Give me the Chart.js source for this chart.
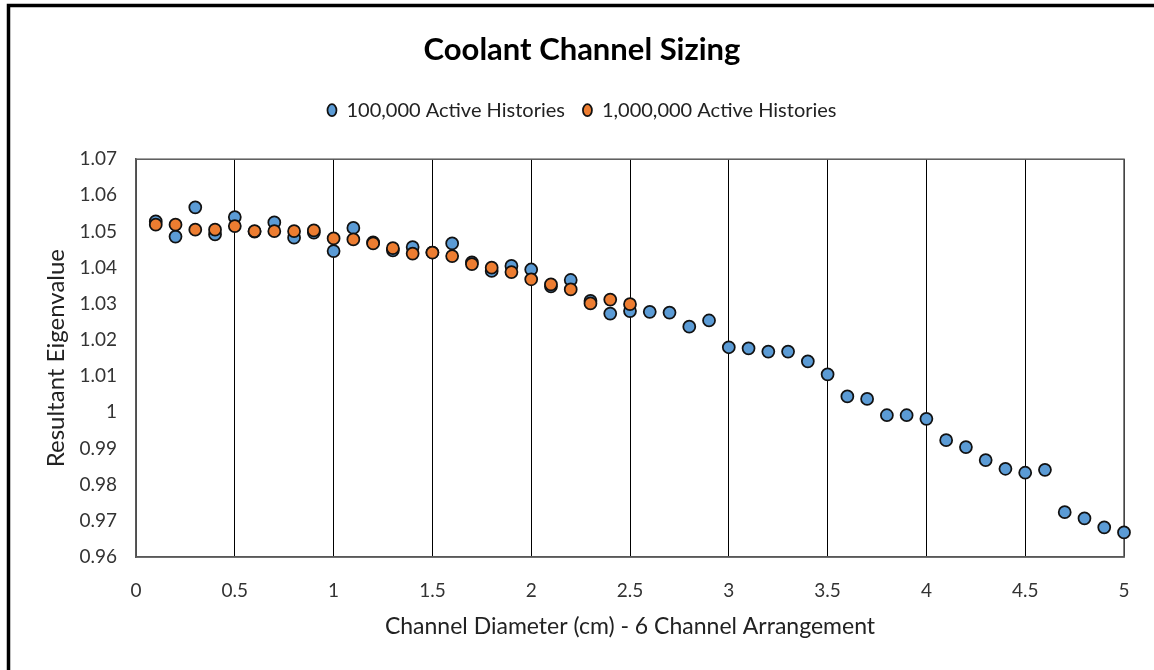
<!DOCTYPE html>
<html>
<head>
<meta charset="utf-8">
<script src="https://cdn.jsdelivr.net/npm/chart.js@4.4.1/dist/chart.umd.min.js"></script>
<style>
  body { margin: 0; background: #fff; }
  #wrap { width: 1154px; height: 670px; }
</style>
</head>
<body>
<div id="wrap"><canvas id="chart" width="1154" height="670"></canvas></div>
<script>
// channel diameters (cm)
const diameters = [0.1, 0.2, 0.3, 0.4, 0.5, 0.6, 0.7, 0.8, 0.9, 1.0,
  1.1, 1.2, 1.3, 1.4, 1.5, 1.6, 1.7, 1.8, 1.9, 2.0,
  2.1, 2.2, 2.3, 2.4, 2.5, 2.6, 2.7, 2.8, 2.9, 3.0,
  3.1, 3.2, 3.3, 3.4, 3.5, 3.6, 3.7, 3.8, 3.9, 4.0,
  4.1, 4.2, 4.3, 4.4, 4.5, 4.6, 4.7, 4.8, 4.9, 5.0];

// eigenvalues, 100,000 active histories
const eig100k = [1.0528, 1.0486, 1.0567, 1.0492, 1.0540, 1.0500, 1.0525, 1.0483, 1.0497, 1.0446,
  1.0510, 1.0470, 1.0448, 1.0457, 1.0442, 1.0467, 1.0415, 1.0391, 1.0405, 1.0395,
  1.0348, 1.0366, 1.0308, 1.0273, 1.0280, 1.0278, 1.0276, 1.0237, 1.0254, 1.0180,
  1.0177, 1.0168, 1.0168, 1.0141, 1.0105, 1.0044, 1.0037, 0.9992, 0.9992, 0.9982,
  0.9923, 0.9904, 0.9868, 0.9844, 0.9833, 0.9841, 0.9724, 0.9707, 0.9682, 0.9668];

// eigenvalues, 1,000,000 active histories (only up to 2.5 cm)
const eig1m = [1.0519, 1.0519, 1.0505, 1.0505, 1.0515, 1.0501, 1.0501, 1.0501, 1.0503, 1.0481,
  1.0478, 1.0467, 1.0454, 1.0439, 1.0442, 1.0432, 1.0410, 1.0400, 1.0388, 1.0368,
  1.0354, 1.0340, 1.0301, 1.0312, 1.0299];

const seriesNames = ['100,000 Active Histories', '1,000,000 Active Histories'];

const FONT = 'Lato, "Open Sans", sans-serif';

// white background, gray plot box and the black outer frame
const framePlugin = {
  id: 'framePlugin',
  beforeInit(chart) {
    // leave some room under the legend, like the original
    const fit = chart.legend.fit;
    chart.legend.fit = function() {
      fit.call(this);
      this.height += 29;
    };
  },
  beforeDraw(chart) {
    const ctx = chart.ctx;
    ctx.save();
    ctx.fillStyle = '#fff';
    ctx.fillRect(0, 0, chart.width, chart.height);
    ctx.restore();
  },
  beforeDatasetsDraw(chart) {
    const {ctx, chartArea} = chart;
    ctx.save();
    ctx.strokeStyle = '#595959';
    ctx.lineWidth = 1.5;
    ctx.strokeRect(chartArea.left, chartArea.top, chartArea.right - chartArea.left, chartArea.bottom - chartArea.top);
    ctx.restore();
  },
  afterDraw(chart) {
    const ctx = chart.ctx;
    ctx.save();
    ctx.strokeStyle = '#000';
    ctx.lineWidth = 3.5;
    ctx.beginPath();
    ctx.moveTo(8.5, chart.height + 5);
    ctx.lineTo(8.5, 5.5);
    ctx.lineTo(chart.width + 5, 5.5);
    ctx.stroke();
    ctx.restore();
  }
};

function renderChart() {
  const ctx = document.getElementById('chart').getContext('2d');
  new Chart(ctx, {
    type: 'scatter',
    data: {
      datasets: [{
        label: seriesNames[0],
        data: diameters.map((x, i) => ({x: x, y: eig100k[i]})),
        backgroundColor: '#5B9BD5',
        borderColor: '#111',
        borderWidth: 1.75,
        pointRadius: 6,
        clip: false,
        order: 2
      }, {
        label: seriesNames[1],
        data: eig1m.map((y, i) => ({x: diameters[i], y: y})),
        backgroundColor: '#ED7D31',
        borderColor: '#111',
        borderWidth: 1.75,
        pointRadius: 6,
        clip: false,
        order: 1
      }]
    },
    options: {
      responsive: false,
      animation: false,
      layout: { padding: { left: 20, right: 10, top: 0, bottom: 0 } },
      plugins: {
        title: {
          display: true,
          text: 'Coolant Channel Sizing',
          color: '#000',
          font: { family: FONT, size: 31, weight: 'bold' },
          padding: { top: 31, bottom: 14 }
        },
        legend: {
          position: 'top',
          labels: {
            color: '#222',
            font: { family: FONT, size: 20 },
            usePointStyle: true,
            pointStyle: 'circle',
            pointStyleWidth: 9,
            boxHeight: 8.5,
            padding: 18,
            sort: (a, b) => a.datasetIndex - b.datasetIndex
          }
        },
        tooltip: { enabled: false }
      },
      scales: {
        x: {
          type: 'linear',
          min: 0,
          max: 5,
          ticks: {
            stepSize: 0.5,
            color: '#333',
            font: { family: FONT, size: 19 },
            padding: 22,
            callback: v => Number(v.toFixed(2)).toString()
          },
          grid: { color: '#000', lineWidth: 1, drawTicks: false },
          border: { color: '#595959', width: 1.5 },
          title: {
            display: true,
            text: 'Channel Diameter (cm) - 6 Channel Arrangement',
            color: '#222',
            font: { family: FONT, size: 23 },
            padding: { top: 30, bottom: 30 }
          },
          afterFit: s => { s.height = 113; }
        },
        y: {
          type: 'linear',
          min: 0.96,
          max: 1.07,
          ticks: {
            stepSize: 0.01,
            color: '#333',
            font: { family: FONT, size: 19 },
            padding: 19,
            callback: v => Number(v.toFixed(2)).toString()
          },
          grid: { display: false, drawTicks: false },
          border: { color: '#595959', width: 1.5 },
          title: {
            display: true,
            text: 'Resultant Eigenvalue',
            color: '#222',
            font: { family: FONT, size: 24 },
            padding: { top: 22, bottom: 22 }
          },
          afterFit: s => { s.width = 116; }
        },
        // empty axis on the right, only to keep the plot box off the edge
        yRight: {
          type: 'linear',
          position: 'right',
          display: true,
          ticks: { display: false },
          grid: { display: false, drawTicks: false },
          border: { display: false },
          afterFit: s => { s.width = 20; }
        }
      }
    },
    plugins: [framePlugin]
  });
}

renderChart();
</script>
</body>
</html>
